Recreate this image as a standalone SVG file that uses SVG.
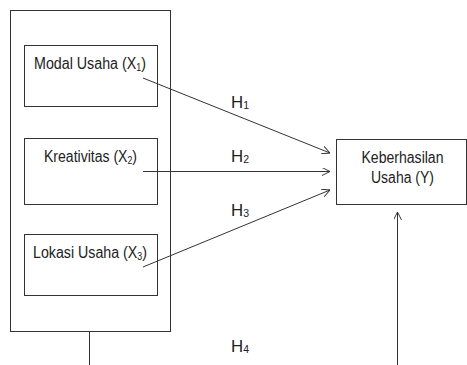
<svg xmlns="http://www.w3.org/2000/svg" width="467" height="365" viewBox="0 0 467 365">
<style>
.box{fill:#fff;stroke:#333;stroke-width:1}
.t{font-family:"Liberation Sans",Arial,sans-serif;font-size:16px;fill:#222}
.s{font-size:10px}
.c{stroke:#333;stroke-width:1;fill:none}
</style>
<defs>
<marker id="ah" viewBox="0 0 10 10" refX="10" refY="5" markerWidth="8" markerHeight="8" markerUnits="userSpaceOnUse" orient="auto">
<path d="M0,0 L10,5 L0,10" fill="none" stroke="#333" stroke-width="1.2"/>
</marker>
</defs>
<rect width="467" height="365" fill="#fff"/>
<g id="outer"><rect class="box" x="10.5" y="10.5" width="160" height="321"/></g>
<g id="x1"><rect class="box" x="24.5" y="45.5" width="133" height="61"/>
<text class="t" x="34" y="69" textLength="112" lengthAdjust="spacingAndGlyphs">Modal Usaha (X<tspan class="s" dy="2">1</tspan><tspan dy="-2">)</tspan></text></g>
<g id="x2"><rect class="box" x="24.5" y="138.5" width="133" height="66"/>
<text class="t" x="44" y="162" textLength="93" lengthAdjust="spacingAndGlyphs">Kreativitas (X<tspan class="s" dy="2">2</tspan><tspan dy="-2">)</tspan></text></g>
<g id="x3"><rect class="box" x="24.5" y="234.5" width="133" height="61"/>
<text class="t" x="33" y="258" textLength="114" lengthAdjust="spacingAndGlyphs">Lokasi Usaha (X<tspan class="s" dy="2">3</tspan><tspan dy="-2">)</tspan></text></g>
<g id="y"><rect class="box" x="336.5" y="139.5" width="130" height="65"/>
<text class="t" x="361.5" y="163" textLength="82" lengthAdjust="spacingAndGlyphs">Keberhasilan</text>
<text class="t" x="371" y="183" textLength="63" lengthAdjust="spacingAndGlyphs">Usaha (Y)</text></g>
<g id="connectors">
<line class="c" x1="143" y1="78" x2="330" y2="153" marker-end="url(#ah)"/>
<line class="c" x1="143" y1="171.5" x2="330" y2="171.5" marker-end="url(#ah)"/>
<line class="c" x1="143" y1="267" x2="330" y2="190" marker-end="url(#ah)"/>
<line class="c" x1="397.5" y1="365" x2="397.5" y2="212" marker-end="url(#ah)"/>
<line class="c" x1="89.5" y1="332" x2="89.5" y2="365"/>
<text class="t" x="231" y="108" textLength="18" lengthAdjust="spacingAndGlyphs">H<tspan class="s" dy="1">1</tspan></text>
<text class="t" x="231" y="162" textLength="18" lengthAdjust="spacingAndGlyphs">H<tspan class="s" dy="1">2</tspan></text>
<text class="t" x="231" y="216" textLength="18" lengthAdjust="spacingAndGlyphs">H<tspan class="s" dy="1">3</tspan></text>
<text class="t" x="231" y="352" textLength="18" lengthAdjust="spacingAndGlyphs">H<tspan class="s" dy="1">4</tspan></text>
</g>
</svg>
